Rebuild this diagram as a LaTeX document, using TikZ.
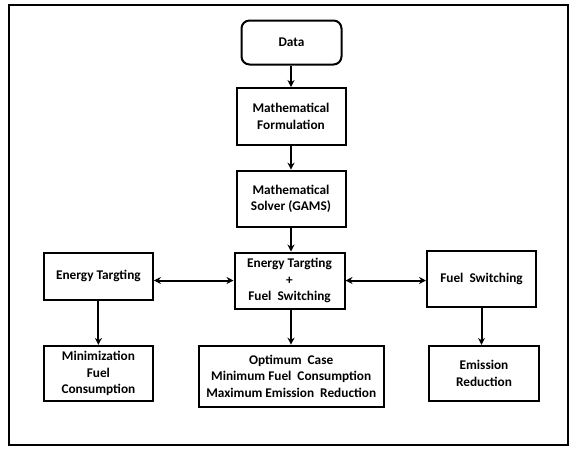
\documentclass[tikz,border=0pt]{standalone}
\usepackage{fontspec}
\setmainfont{Carlito}
\usetikzlibrary{arrows.meta}
\begin{document}
\begin{tikzpicture}[x=1pt,y=-1pt,
  box/.style={draw=black,line width=2pt,align=center,inner sep=0pt,
    font=\fontsize{13.3}{16.5}\selectfont\bfseries},
  conn/.style={line width=2pt,-{Stealth[length=7pt,width=7pt]}},
  dconn/.style={line width=2pt,{Stealth[length=7pt,width=7pt]}-{Stealth[length=7pt,width=7pt]}}]
\useasboundingbox (0,0) rectangle (571,451);
\fill[white] (0,0) rectangle (571,451);
\draw[line width=2.2pt] (9,5) rectangle (568,445);
\node[box,rounded corners=8pt,minimum width=100pt,minimum height=44pt] (data) at (291.5,42.5) {Data};
\node[box,minimum width=109pt,minimum height=57pt] (form) at (291,116.5) {Mathematical\\Formulation};
\node[box,minimum width=109pt,minimum height=56pt] (solver) at (291,198.7) {Mathematical\\Solver (GAMS)};
\node[box,minimum width=110pt,minimum height=56pt] (mid) at (289.5,280.5) {Energy Targting\\+\\Fuel\ \ Switching};
\node[box,minimum width=109pt,minimum height=47pt] (left) at (98.4,276) {Energy Targting};
\node[box,minimum width=109pt,minimum height=56pt] (right) at (481.5,279) {Fuel\ \ Switching};
\node[box,minimum width=109pt,minimum height=55pt] (mini) at (98.4,373.4) {Minimization\\Fuel\\Consumption};
\node[box,minimum width=185pt,minimum height=61pt] (opt) at (291.2,376.2) {Optimum\ \ Case\\Minimum Fuel\ \ Consumption\\Maximum Emission\ \ Reduction};
\node[box,minimum width=110pt,minimum height=55pt] (emis) at (484,373.4) {Emission\\Reduction};
\draw[conn] (data.south -| solver) -- (form.north -| solver);
\draw[conn] (form.south -| solver) -- (solver.north);
\draw[conn] (solver.south) -- (mid.north -| solver);
\draw[conn] (left.south) -- (left.south |- mini.north);
\draw[conn] (mid.south -| solver) -- (opt.north -| solver);
\draw[conn] (right.south) -- (right.south |- emis.north);
\draw[dconn] (left.east |- mid.west) -- (mid.west);
\draw[dconn] (mid.east) -- (mid.east -| right.west);
\end{tikzpicture}
\end{document}
